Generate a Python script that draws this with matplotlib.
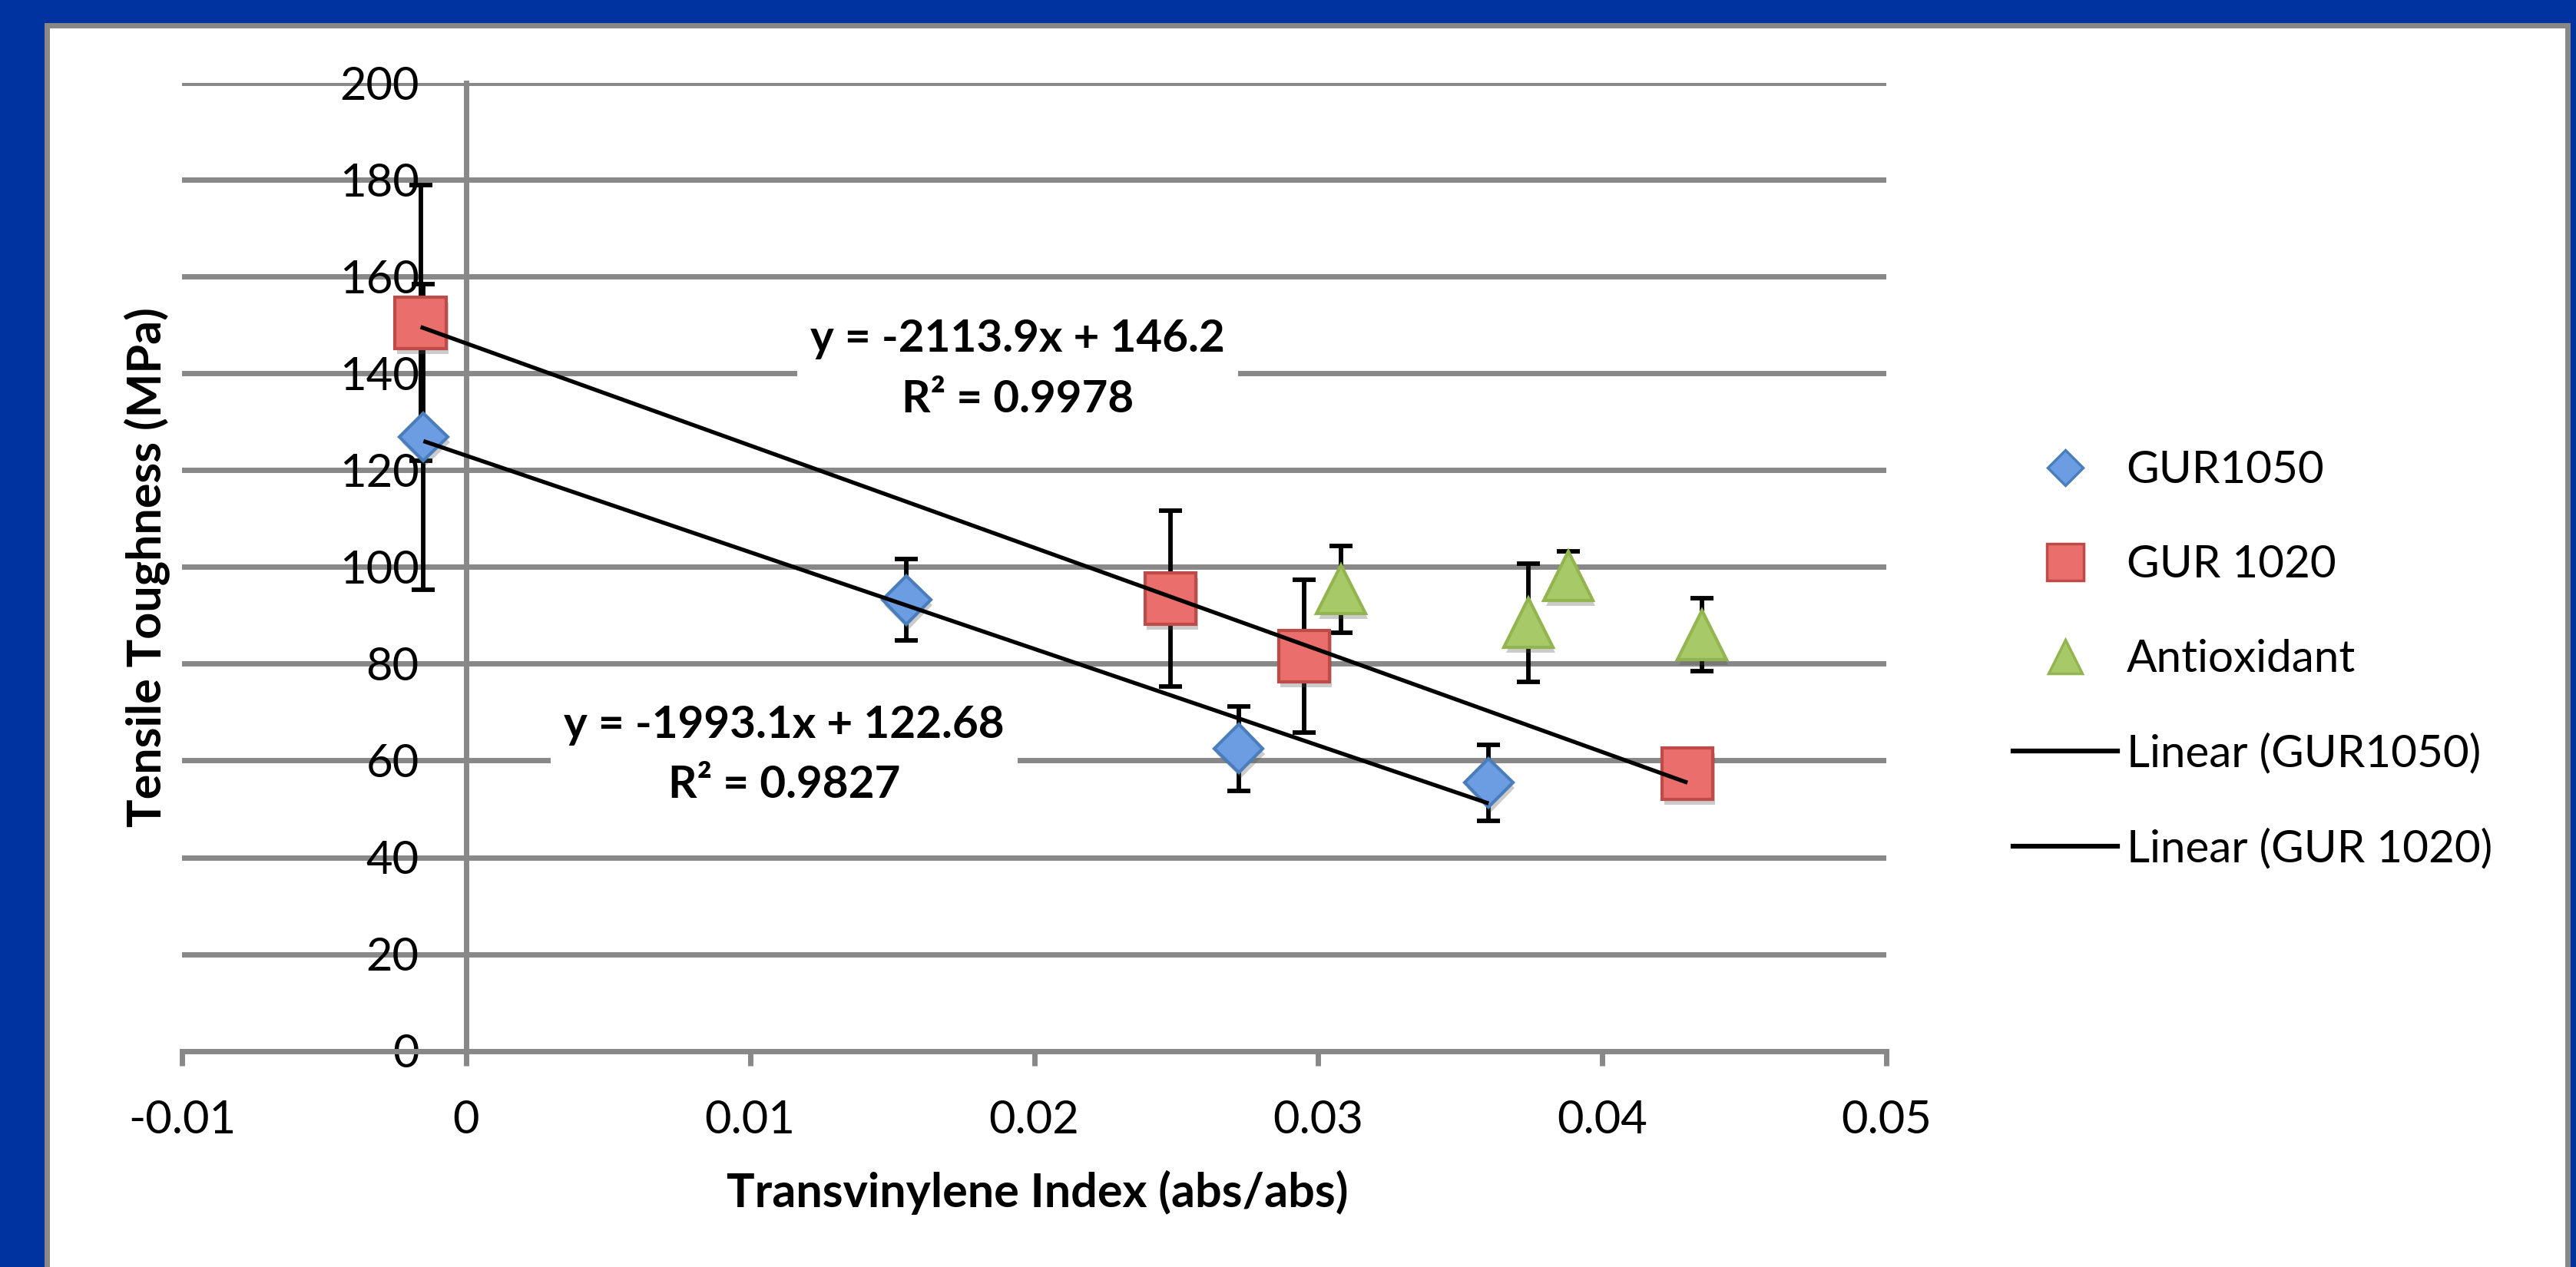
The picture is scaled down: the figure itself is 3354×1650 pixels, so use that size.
import numpy as np
import matplotlib
matplotlib.use('Agg')
import matplotlib.pyplot as plt
from matplotlib.lines import Line2D
from matplotlib.patches import Rectangle
import matplotlib.patheffects as pe

plt.rcParams['font.family'] = ['Lato', 'DejaVu Sans']

# ---------------- data ----------------
gur1050_x = [-0.0015, 0.0155, 0.0272, 0.0360]
gur1050_y = [126.9, 93.2, 62.5, 55.4]
gur1050_err = [31.6, 8.4, 8.7, 7.8]

gur1020_x = [-0.0016, 0.0248, 0.0295, 0.0430]
gur1020_y = [150.5, 93.5, 81.6, 57.3]
gur1020_err = [28.5, 18.2, 15.8, 4.0]

anti_x = [0.0308, 0.0374, 0.0388, 0.0435]
anti_y = [95.4, 88.5, 98.2, 86.0]
anti_err = [9.0, 12.2, 5.0, 7.5]

x_ticks = [-0.01, 0.0, 0.01, 0.02, 0.03, 0.04, 0.05]
x_tick_labels = ['-0.01', '0', '0.01', '0.02', '0.03', '0.04', '0.05']
y_ticks = [0, 20, 40, 60, 80, 100, 120, 140, 160, 180, 200]
y_tick_labels = [str(v) for v in y_ticks]

series_labels = ['GUR1050', 'GUR 1020', 'Antioxidant', 'Linear (GUR1050)', 'Linear (GUR 1020)']
eq_1050 = "y = -1993.1x + 122.68\nR\u00b2 = 0.9827"
eq_1020 = "y = -2113.9x + 146.2\nR\u00b2 = 0.9978"
x_label = 'Transvinylene Index (abs/abs)'
y_label = 'Tensile Toughness (MPa)'

# ---------------- styles ----------------
BLUE_BG = '#0033A0'
GRID = '#888888'
blue_fc, blue_ec = '#6C9CE2', '#4A7EBB'
red_fc, red_ec = '#E96E6C', '#BE4B48'
green_fc, green_ec = '#A8C968', '#93B550'

W, H = 3354, 1650
fig = plt.figure(figsize=(W / 100, H / 100), dpi=100, facecolor=BLUE_BG)

panel = Rectangle((60.5 / W, -0.1), (3342.5 - 60.5) / W, (H - 33.5) / H + 0.1,
                  transform=fig.transFigure, facecolor='white', edgecolor=GRID,
                  lw=5, zorder=-10)
fig.patches.append(panel)

ax = fig.add_axes([237 / W, 1 - 1368.5 / H, 2219 / W, 1260 / H])
ax.set_facecolor('white')
ax.set_xlim(-0.01, 0.05)
ax.set_ylim(0, 200)

for s in ['top', 'right']:
    ax.spines[s].set_visible(False)
ax.spines['left'].set_position(('data', 0))
ax.spines['left'].set_color(GRID)
ax.spines['left'].set_linewidth(5)
ax.spines['bottom'].set_color(GRID)
ax.spines['bottom'].set_linewidth(5)
ax.spines['left'].set_zorder(1)
ax.spines['bottom'].set_zorder(1.5)

ax.set_axisbelow(True)
ax.yaxis.grid(True, color=GRID, lw=5)
ax.set_xticks(x_ticks)
ax.set_xticklabels(x_tick_labels)
ax.set_yticks(y_ticks)
ax.set_yticklabels(y_tick_labels)
ax.tick_params(axis='x', direction='out', length=14, width=5, color=GRID,
               pad=32, labelsize=43)
ax.tick_params(axis='y', length=0, pad=44, labelsize=43)

shadow = [pe.SimplePatchShadow(offset=(2, -5), shadow_rgbFace='#555555', alpha=0.3),
          pe.Normal()]

# error bars
for xs, ys, es in [(gur1050_x, gur1050_y, gur1050_err),
                   (gur1020_x, gur1020_y, gur1020_err),
                   (anti_x, anti_y, anti_err)]:
    ax.errorbar(xs, ys, yerr=es, fmt='none', ecolor='black', elinewidth=4.2,
                capsize=10.5, capthick=4.2, zorder=3)

# markers
ax.plot(gur1050_x, gur1050_y, ls='none', marker='D', ms=32, mfc=blue_fc, mec=blue_ec,
        mew=3, zorder=4, path_effects=shadow)
ax.plot(gur1020_x, gur1020_y, ls='none', marker='s', ms=48, mfc=red_fc, mec=red_ec,
        mew=3, zorder=4, path_effects=shadow)
ax.plot(anti_x, anti_y, ls='none', marker='^', ms=46, mfc=green_fc, mec=green_ec,
        mew=3, zorder=4, path_effects=shadow)

# linear trendlines
for xs, ys in [(gur1050_x, gur1050_y), (gur1020_x, gur1020_y)]:
    m, b = np.polyfit(xs, ys, 1)
    xx = np.array([min(xs), max(xs)])
    ax.plot(xx, m * xx + b, color='black', lw=3.8, zorder=5, solid_capstyle='butt')

# equation labels
ax.text(0.01942, 140.9, eq_1020, ha='center', va='center', fontsize=42,
        fontweight='bold', multialignment='center', linespacing=1.6, zorder=6,
        bbox=dict(boxstyle='square,pad=0.3', fc='white', ec='none'))
ax.text(0.0112, 61.1, eq_1050, ha='center', va='center', fontsize=42,
        fontweight='bold', multialignment='center', linespacing=1.6, zorder=6,
        bbox=dict(boxstyle='square,pad=0.3', fc='white', ec='none'))

ax.set_xlabel(x_label, fontsize=44, fontweight='bold')
ax.xaxis.set_label_coords((1351 - 237) / 2219, (1368.5 - 1553) / 1260)
ax.xaxis.label.set_va('center')
ax.set_ylabel(y_label, fontsize=44, fontweight='bold')
ax.yaxis.set_label_coords((192 - 237) / 2219, 0.5)
ax.yaxis.label.set_va('center')

# legend
handles = [
    Line2D([], [], ls='none', marker='D', ms=23, mfc=blue_fc, mec=blue_ec, mew=2.5),
    Line2D([], [], ls='none', marker='s', ms=34, mfc=red_fc, mec=red_ec, mew=2.5),
    Line2D([], [], ls='none', marker='^', ms=31, mfc=green_fc, mec=green_ec, mew=2.5),
    Line2D([], [], color='black', lw=4.5),
    Line2D([], [], color='black', lw=4.5),
]
fig.legend(handles, series_labels, loc='upper left',
           bbox_to_anchor=(2621 / W, 1 - 586 / H), frameon=False, fontsize=42,
           handlelength=2.33, handletextpad=0.2, labelspacing=1.2,
           borderpad=0, borderaxespad=0)

fig.savefig('out.png', dpi=100, facecolor=BLUE_BG)
